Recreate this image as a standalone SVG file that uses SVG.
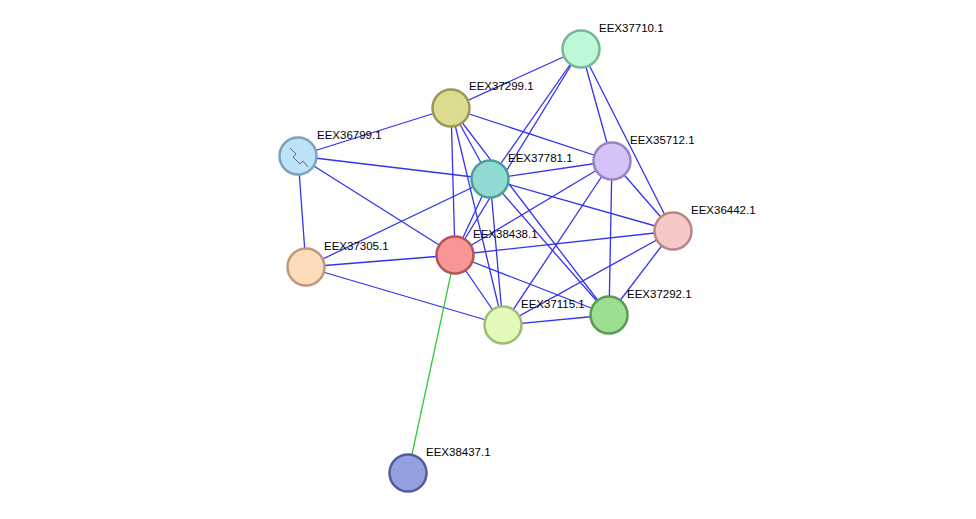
<svg xmlns="http://www.w3.org/2000/svg" width="976" height="519" viewBox="0 0 976 519">
<style>
.e{stroke:#3333ee;stroke-width:1.3;fill:none}
.g{stroke:#33cc33;stroke-width:1.3}
circle{stroke-width:2.5}
text{font-family:"Liberation Sans",Arial,sans-serif;font-size:11.5px;fill:#000}
</style>
<rect width="976" height="519" fill="#fff"/>
<g id="edges">
<line class="e" x1="581" y1="49" x2="451" y2="108"/>
<line class="e" x1="581" y1="49" x2="490" y2="179"/>
<line class="e" x1="581" y1="49" x2="455" y2="255"/>
<line class="e" x1="581" y1="49" x2="612" y2="161"/>
<line class="e" x1="581" y1="49" x2="673" y2="231"/>
<line class="e" x1="451" y1="108" x2="298" y2="156"/>
<line class="e" x1="451" y1="108" x2="490" y2="179"/>
<line class="e" x1="451" y1="108" x2="612" y2="161"/>
<line class="e" x1="451" y1="108" x2="455" y2="255"/>
<line class="e" x1="451" y1="108" x2="503" y2="325"/>
<line class="e" x1="451" y1="108" x2="609" y2="315"/>
<line class="e" x1="298" y1="156" x2="490" y2="179"/>
<line class="e" x1="298" y1="156" x2="455" y2="255"/>
<line class="e" x1="298" y1="156" x2="306" y2="267"/>
<line class="e" x1="490" y1="179" x2="612" y2="161"/>
<line class="e" x1="490" y1="179" x2="673" y2="231"/>
<line class="e" x1="490" y1="179" x2="455" y2="255"/>
<line class="e" x1="490" y1="179" x2="306" y2="267"/>
<line class="e" x1="490" y1="179" x2="503" y2="325"/>
<line class="e" x1="490" y1="179" x2="609" y2="315"/>
<line class="e" x1="612" y1="161" x2="455" y2="255"/>
<line class="e" x1="612" y1="161" x2="673" y2="231"/>
<line class="e" x1="612" y1="161" x2="609" y2="315"/>
<line class="e" x1="612" y1="161" x2="503" y2="325"/>
<line class="e" x1="673" y1="231" x2="455" y2="255"/>
<line class="e" x1="673" y1="231" x2="609" y2="315"/>
<line class="e" x1="673" y1="231" x2="503" y2="325"/>
<line class="e" x1="455" y1="255" x2="306" y2="267"/>
<line class="e" x1="455" y1="255" x2="503" y2="325"/>
<line class="e" x1="455" y1="255" x2="609" y2="315"/>
<line class="e" x1="306" y1="267" x2="503" y2="325"/>
<line class="e" x1="503" y1="325" x2="609" y2="315"/>
<line class="g" x1="455" y1="255" x2="408" y2="473"/>
</g>
<g id="EEX37710.1"><circle cx="581" cy="49" r="18.5" fill="#bdf9d6" stroke="#76b894"/><text x="599" y="32">EEX37710.1</text></g>
<g id="EEX37299.1"><circle cx="451" cy="108" r="18.5" fill="#dcdc90" stroke="#999955"/><text x="469" y="90">EEX37299.1</text></g>
<g id="EEX36799.1"><circle cx="298" cy="156" r="18.5" fill="#bde3f8" stroke="#7ba3bf"/><path d="M290 148 l6 6 l-3 3 l7 7 l3 -3 l5 6" stroke="#666" stroke-width="1" fill="none"/><text x="317" y="139">EEX36799.1</text></g>
<g id="EEX37781.1"><circle cx="490" cy="179" r="18.5" fill="#90dbd2" stroke="#4f9e96"/><text x="508" y="162">EEX37781.1</text></g>
<g id="EEX35712.1"><circle cx="612" cy="161" r="18.5" fill="#d4c2f8" stroke="#9984bd"/><text x="630" y="144">EEX35712.1</text></g>
<g id="EEX36442.1"><circle cx="673" cy="231" r="18.5" fill="#f7c8c8" stroke="#bb8585"/><text x="691" y="214">EEX36442.1</text></g>
<g id="EEX38438.1"><circle cx="455" cy="255" r="18.5" fill="#f89696" stroke="#b35555"/><text x="473" y="238">EEX38438.1</text></g>
<g id="EEX37305.1"><circle cx="306" cy="267" r="18.5" fill="#fddcbc" stroke="#bf9a7a"/><text x="324" y="250">EEX37305.1</text></g>
<g id="EEX37115.1"><circle cx="503" cy="325" r="18.5" fill="#e2fbba" stroke="#a0bb78"/><text x="521" y="308">EEX37115.1</text></g>
<g id="EEX37292.1"><circle cx="609" cy="315" r="18.5" fill="#9ddf90" stroke="#5c9a52"/><text x="627" y="298">EEX37292.1</text></g>
<g id="EEX38437.1"><circle cx="408" cy="473" r="18.5" fill="#96a0e0" stroke="#545c99"/><text x="426" y="456">EEX38437.1</text></g>
</svg>
